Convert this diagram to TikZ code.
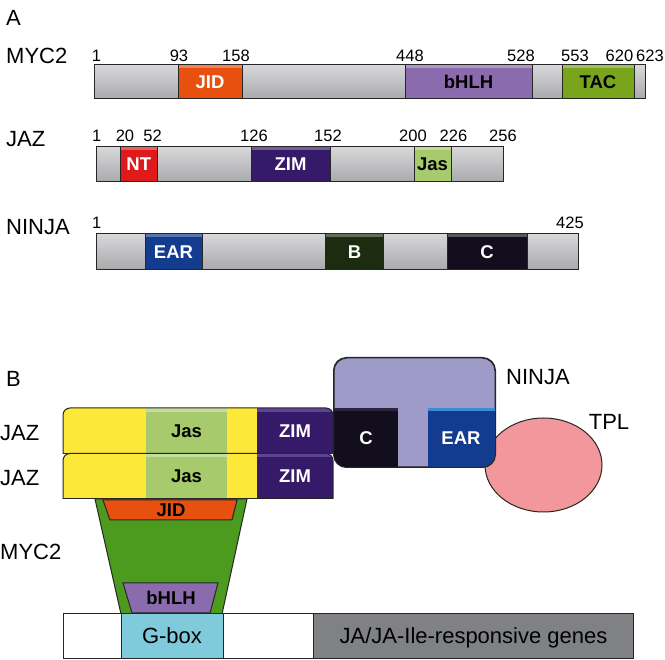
\documentclass[tikz,border=0pt]{standalone}
\usepackage{fontspec}
\setmainfont{Liberation Sans}
\usetikzlibrary{positioning, shapes.geometric}

\definecolor{barhi}{HTML}{D8D8DA}
\definecolor{barlo}{HTML}{A8A9AB}
\definecolor{jidc}{HTML}{E8500F}
\definecolor{bhlhc}{HTML}{8A6CAE}
\definecolor{tacc}{HTML}{78A51C}
\definecolor{ntc}{HTML}{E01A1A}
\definecolor{zimc}{HTML}{351A6A}
\definecolor{zimhi}{HTML}{5E4393}
\definecolor{jasc}{HTML}{A7CA6C}
\definecolor{jashi}{HTML}{C6DDA0}
\definecolor{earc}{HTML}{143C8E}
\definecolor{earhi}{HTML}{3F8AD6}
\definecolor{bc}{HTML}{1D2B10}
\definecolor{cc}{HTML}{120E1E}
\definecolor{chi}{HTML}{2E2440}
\definecolor{ninjac}{HTML}{9E9BC9}
\definecolor{jazy}{HTML}{FDE83A}
\definecolor{myctwo}{HTML}{4C9A1E}
\definecolor{tplc}{HTML}{F2979B}
\definecolor{gboxc}{HTML}{7FCADB}
\definecolor{genec}{HTML}{808184}

\begin{document}
\begin{tikzpicture}[x=1pt, y=-1pt,
    lbl/.style={inner sep=0pt, font=\fontsize{22}{26}\selectfont},
    num/.style={inner sep=0pt, font=\fontsize{16.5}{20}\selectfont},
    outl/.style={draw=black!85, line width=1pt},
    domtxt/.style={inner sep=0pt, text=white, font=\bfseries\fontsize{18.5}{22}\selectfont},
    dom/.style={outl, domtxt, shine},
    bar/.style={outl, inner sep=0pt, top color=barhi, bottom color=barlo},
    shine/.style={path picture={\fill[white, opacity=0.3] (path picture bounding box.north west) rectangle ([yshift=-3pt]path picture bounding box.north east);}},
    rowmyc/.style={minimum height=34pt},
    rowjaz/.style={minimum height=35pt},
    rowninja/.style={minimum height=36pt},
  ]
  \useasboundingbox (0,0) rectangle (665,660);

  % ---- A: domain maps
  \node[lbl, anchor=west] (la) at (6,18) {A};
  \node[lbl, anchor=west] (lmyc2) at (6,56) {MYC2};
  \node[lbl, anchor=west] (ljaz) at (6,139) {JAZ};
  \node[lbl, anchor=west] (lninja) at (6,227) {NINJA};

  % MYC2
  \node[bar, rowmyc, minimum width=551pt] (myc2) at (369.5,82) {};
  \node[dom, rowmyc, fill=jidc, minimum width=64pt] (myc2jid) at (210,82) {JID};
  \node[dom, rowmyc, fill=bhlhc, text=black, minimum width=127pt] (myc2bhlh) at (468.5,82) {bHLH};
  \node[dom, rowmyc, fill=tacc, text=black, minimum width=72pt] (myc2tac) at (598,82) {TAC};
  \foreach \p/\n in {96.5/1, 179/93, 236/158, 410/448, 521/528, 575/553, 619.5/620, 650/623}
    \node[num] (myc2n\n) at (\p,56) {\n};

  % JAZ
  \node[bar, rowjaz, minimum width=406.4pt] (jaz) at (299.8,164.5) {};
  \node[dom, rowjaz, fill=ntc, minimum width=37.6pt] (jaznt) at (138.8,164.5) {NT};
  \node[dom, rowjaz, fill=zimc, minimum width=79pt] (jazzim) at (290.5,164.5) {ZIM};
  \node[dom, rowjaz, fill=jasc, text=black, minimum width=37pt] (jazjas) at (432.5,164.5) {Jas};
  \foreach \p/\n in {96.6/1, 125/20, 152.6/52, 254/126, 328/152, 413/200, 453.5/226, 503/256}
    \node[num] (jazn\n) at (\p,136) {\n};

  % NINJA
  \node[bar, rowninja, minimum width=481.9pt] (ninjabar) at (337.55,252) {};
  \node[dom, rowninja, fill=earc, minimum width=57pt] (ninjaear) at (173.5,252) {EAR};
  \node[dom, rowninja, fill=bc, minimum width=58pt] (ninjab) at (354.5,252) {B};
  \node[dom, rowninja, fill=cc, minimum width=80pt] (ninjac) at (487,252) {C};
  \foreach \p/\n in {96.6/1, 570/425}
    \node[num] (ninjan\n) at (\p,223) {\n};

  % ---- B: complex on the G-box
  \node[lbl, anchor=west] (lb) at (6,379) {B};

  % TPL
  \node[ellipse, outl, fill=tplc, inner sep=0pt, minimum width=117pt, minimum height=94pt] (tpl) at (543.5,465) {};
  \node[lbl] (ltpl) at (609,422) {TPL};

  % NINJA
  \node[outl, rounded corners=13pt, fill=ninjac, inner sep=0pt, minimum width=161pt, minimum height=109pt] (ninja) at (414.5,412.5) {};
  \begin{scope}
    \clip[rounded corners=13pt] (ninja.north west) rectangle (ninja.south east);
    \fill[cc] (334,408) rectangle (398,470);
    \fill[chi] (334,408) rectangle (398,411.5);
    \fill[earc] (428,408) rectangle (497,470);
    \fill[earhi] (428,408) rectangle (497,411.5);
  \end{scope}
  \draw[outl, rounded corners=13pt] (ninja.north west) rectangle (ninja.south east);
  \node[domtxt] (bc) at (366,438) {C};
  \node[domtxt] (bear) at (461,438) {EAR};
  \node[lbl, anchor=west] (lninjab) at (506,377) {NINJA};

  % MYC2
  \draw[outl, fill=myctwo] (95,499) -- (247,499) -- (222,614) -- (121,614) -- cycle;
  \draw[outl, fill=jidc] (103,500) -- (237,500) -- (232,520) -- (110,520) -- cycle;
  \node[domtxt, text=black] (bjid) at (171,510.5) {JID};
  \draw[outl, fill=bhlhc] (123,583) -- (218,583) -- (210,613) -- (132,613) -- cycle;
  \node[domtxt, text=black] (bbhlh) at (171,598) {bHLH};
  \node[lbl, anchor=west] (lmyc2b) at (0,552) {MYC2};

  % JAZ pair
  \foreach \t/\nm in {408/a, 453.5/b} {
    \begin{scope}
      \clip (55,{\t-5}) rectangle (340,{\t+45.5});
      \begin{scope}
        \clip[rounded corners=7pt] (63,\t) rectangle (333,{\t+60});
        \fill[jazy] (63,\t) rectangle (333,{\t+46});
        \fill[jasc] (146,\t) rectangle (227,{\t+46});
        \fill[jashi] (146,\t) rectangle (227,{\t+4});
        \fill[zimc] (257,\t) rectangle (333,{\t+46});
        \fill[zimhi] (257,\t) rectangle (333,{\t+4});
      \end{scope}
      \draw[outl, rounded corners=7pt] (63,\t) rectangle (333,{\t+60});
    \end{scope}
    \draw[outl] (63,{\t+45.5}) -- (333,{\t+45.5});
    \node[domtxt, text=black] (jas\nm) at (186.5,{\t+23}) {Jas};
    \node[domtxt] (zim\nm) at (295,{\t+23}) {ZIM};
    \node[lbl, anchor=west] (ljaz\nm) at (0,{\t+25}) {JAZ};
  }

  % promoter
  \draw[outl, fill=white] (63.5,614) rectangle (633.5,658);
  \draw[outl, fill=gboxc] (121,614) rectangle (223,658);
  \draw[outl, fill=genec] (313.6,614) rectangle (633.5,658);
  \node[lbl] (gbox) at (172,636) {G-box};
  \node[lbl, anchor=base] (genes) at (473.5,644) {JA/JA-Ile-responsive genes};
\end{tikzpicture}
\end{document}
